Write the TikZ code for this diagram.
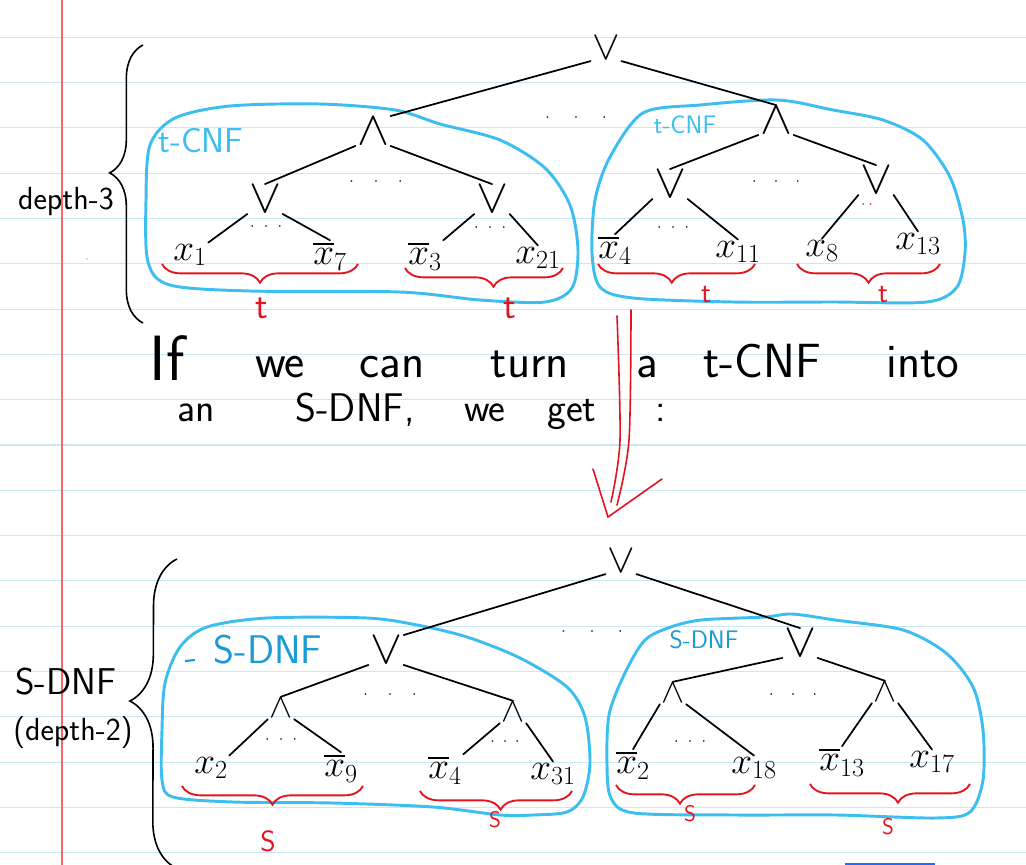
\documentclass[tikz,border=0pt]{standalone}
\usepackage{fix-cm}
\usepackage{amsmath}
\usepackage{xcolor}
\usetikzlibrary{decorations.pathreplacing,positioning}

\definecolor{ruleblue}{HTML}{C9E7F7}
\definecolor{marginred}{HTML}{F26B6B}
\definecolor{boxblue}{HTML}{3DBEF0}
\definecolor{labelblue}{HTML}{1A9AD6}
\definecolor{penred}{HTML}{E3141E}
\definecolor{brightblue}{HTML}{1F6BFF}

\newcommand{\fsz}[1]{\fontsize{#1}{#1}\selectfont}
\newcommand{\gapdots}[1]{$\cdot$\hspace{#1}$\cdot$\hspace{#1}$\cdot$}

\begin{document}
\begin{tikzpicture}[
  x=0.75pt, y=-0.75pt,
  ruleline/.style={ruleblue, line width=0.8pt},
  marginline/.style={marginred, line width=0.8pt},
  wire/.style={line width=1.3pt, line cap=round},
  gate/.style={font=\fsz{36}, inner sep=1pt},
  rootgate/.style={gate, font=\fsz{31}},
  smallgate/.style={gate, font=\fsz{26}},
  leaf/.style={font=\fsz{28}, inner sep=1pt},
  dotrow/.style={font=\fsz{12}, inner sep=0pt},
  blob/.style={boxblue, line width=2.2pt},
  bluelabel/.style={boxblue, font=\sffamily\fsz{26}, inner sep=0pt},
  dnflabel/.style={labelblue, font=\sffamily\fsz{30}, inner sep=0pt},
  hand/.style={font=\sffamily\fsz{36}, inner sep=0pt, anchor=base},
  handsmall/.style={hand, font=\sffamily\fsz{30}},
  sidetext/.style={font=\sffamily\fsz{24}, inner sep=0pt},
  tbrace/.style={penred, line width=1.4pt, decorate,
                 decoration={brace, mirror, amplitude=14pt, aspect=#1}},
  tbrace/.default=0.5,
  bigbrace/.style={line width=1.2pt, decorate,
                   decoration={brace, amplitude=#1, aspect=0.54}},
  redlabel/.style={penred, font=\sffamily\fsz{28}, inner sep=0pt},
  redpen/.style={penred, line width=1.2pt, line cap=round, line join=round}
]
\useasboundingbox (0,0) rectangle (1026,865);
\fill[white] (0,0) rectangle (1026,865);
\foreach \k in {0,...,18}
  \draw[ruleline] (0,{37.3+45.3*\k}) -- (1026,{37.3+45.3*\k});
\draw[marginline] (62,0) -- (62,865);

% depth-3 circuit
\draw[blob] plot[smooth cycle] coordinates {(146,200) (150,145) (175,118)
  (230,106) (320,104) (395,110) (440,124) (500,140) (545,168) (570,205)
  (578,250) (572,288) (545,302) (480,300) (400,292) (250,291) (170,285) (148,262)};
\draw[blob] plot[smooth cycle] coordinates {(643,113) (700,105) (777,100)
  (833,110) (883,120) (923,140) (950,177) (963,220) (965,253) (957,287)
  (927,302) (833,302) (733,302) (633,298) (600,287) (592,253) (595,200)
  (610,157)};
\node[bluelabel] (cnf1) at (201,141) {t-CNF};
\node[bluelabel, font=\sffamily\fsz{19}] (cnf2) at (685,125) {t-CNF};

\node[rootgate] (r1)  at (606,48)  {$\vee$};
\node[gate]     (a1)  at (373,131) {$\wedge$};
\node[gate]     (a2)  at (776,120) {$\wedge$};
\node[gate]     (o11) at (265,199) {$\vee$};
\node[gate]     (o12) at (492,199) {$\vee$};
\node[gate]     (o21) at (670,184) {$\vee$};
\node[gate]     (o22) at (876,180) {$\vee$};

\node[leaf] (x1)  at (190,255) {$x_{1}$};
\node[leaf] (x7b) at (330,256) {$\overline{x}_{7}$};
\node[leaf] (x3b) at (425,256) {$\overline{x}_{3}$};
\node[leaf] (x21) at (538,258) {$x_{21}$};
\node[leaf] (x4b) at (615,250) {$\overline{x}_{4}$};
\node[leaf] (x11) at (738,252) {$x_{11}$};
\node[leaf] (x8)  at (822,251) {$x_{8}$};
\node[leaf] (x13) at (918,244) {$x_{13}$};

\node[dotrow] (d0) at (576,118) {\gapdots{18pt}};
\node[dotrow] (d1) at (376,182) {\gapdots{15pt}};
\node[dotrow] (d2) at (266,227) {\gapdots{7pt}};
\node[dotrow] (d3) at (490,228) {\gapdots{7pt}};
\node[dotrow] (d4) at (776,182) {\gapdots{13pt}};
\node[dotrow] (d5) at (673,228) {\gapdots{7pt}};
\node[dotrow, penred] (d6) at (867,205) {$\cdot\,\cdot$};

\draw[wire] (r1.south west) -- (a1.north east);
\draw[wire] (r1.south east) -- (a2.north);
\draw[wire] (a1.south west) -- (o11.north);
\draw[wire] (a1.south east) -- (o12.north);
\draw[wire] (a2.south west) -- (o21.north);
\draw[wire] (a2.south east) -- (o22.north);
\draw[wire] (o11.south west) -- (x1.north east);
\draw[wire] (o11.south east) -- (x7b.north);
\draw[wire] (o12.south west) -- (x3b.north east);
\draw[wire] (o12.south east) -- (x21.north);
\draw[wire] (o21.south west) -- (x4b.north);
\draw[wire] (o21.south east) -- (x11.north);
\draw[wire] (o22.south west) -- (x8.north);
\draw[wire] (o22.south east) -- (x13.north);

\draw[tbrace] (162,264) -- (358,264);
\draw[tbrace=0.56] (405,268) -- (563,268);
\draw[tbrace=0.47] (598,264) -- (755,264);
\draw[tbrace] (797,264) -- (940,264);
\node[redlabel] (t1) at (262,308) {t};
\node[redlabel] (t2) at (510,308) {t};
\node[redlabel, font=\sffamily\fsz{22}] (t3) at (706,294) {t};
\node[redlabel, font=\sffamily\fsz{22}] (t4) at (883,294) {t};

\draw[bigbrace=25pt] (143,323) -- (143,45);
\node[sidetext] (dep3) at (66,202) {depth-3};
\fill[penred] (87,259) circle (0.6);

% the sentence
\node[hand, font=\sffamily\fsz{48}] (w1) at (167,380) {If};
\node[hand] (w2) at (280,377) {we};
\node[hand] (w3) at (392,377) {can};
\node[hand] (w4) at (530,377) {turn};
\node[hand] (w5) at (647,377) {a};
\node[hand] (w6) at (762,377) {t-CNF};
\node[hand] (w7) at (923,377) {into};
\node[handsmall] (v1) at (196,421) {an};
\node[handsmall] (v2) at (355,421) {S-DNF,};
\node[handsmall] (v3) at (485,421) {we};
\node[handsmall] (v4) at (572,421) {get};
\node[handsmall] (v5) at (661,421) {:};

\coordinate (arrtip) at (608,517);
\draw[redpen] plot[smooth] coordinates {(617,316) (620,440) (611,502)};
\draw[redpen] plot[smooth] coordinates {(631,310) (629,440) (617,505)};
\draw[redpen] (593,469) -- (arrtip) -- (662,479);

% depth-2 circuit
\draw[blob] plot[smooth cycle] coordinates {(162,730) (165,683) (180,647)
  (207,627) (267,618) (367,618) (417,625) (467,637) (520,658) (567,687)
  (585,717) (590,763) (583,797) (567,812) (533,815) (500,815) (433,807)
  (333,803) (233,802) (173,797) (162,780)};
\draw[blob] plot[smooth cycle] coordinates {(668,628) (701,620) (765,617)
  (792,614) (835,620) (903,630) (946,653) (973,687) (983,730) (983,780)
  (970,812) (936,818) (836,815) (735,815) (634,813) (611,798) (607,765)
  (609,715) (624,675) (644,641)};
\draw[labelblue, line width=1.6pt] (185,661) -- (195,660);
\node[dnflabel] (dnf1) at (268,650) {S-DNF};
\node[dnflabel, font=\sffamily\fsz{19}] (dnf2) at (704,640) {S-DNF};

\node[rootgate]  (r2)  at (621,561) {$\vee$};
\node[gate]      (o1)  at (386,650) {$\vee$};
\node[gate]      (o2)  at (800,643) {$\vee$};
\node[smallgate] (c11) at (281,708) {$\wedge$};
\node[smallgate] (c12) at (513,712) {$\wedge$};
\node[smallgate] (c21) at (673,693) {$\wedge$};
\node[smallgate] (c22) at (885,692) {$\wedge$};

\node[leaf] (y2)   at (211,768) {$x_{2}$};
\node[leaf] (y9b)  at (341,768) {$\overline{x}_{9}$};
\node[leaf] (y4b)  at (445,770) {$\overline{x}_{4}$};
\node[leaf] (y31)  at (553,774) {$x_{31}$};
\node[leaf] (y2b)  at (633,765) {$\overline{x}_{2}$};
\node[leaf] (y18)  at (754,768) {$x_{18}$};
\node[leaf] (y13b) at (842,762) {$\overline{x}_{13}$};
\node[leaf] (y17)  at (932,762) {$x_{17}$};

\node[dotrow] (e0) at (592,632) {\gapdots{18pt}};
\node[dotrow] (e1) at (390,695) {\gapdots{15pt}};
\node[dotrow] (e2) at (281,740) {\gapdots{7pt}};
\node[dotrow] (e3) at (505,742) {\gapdots{6pt}};
\node[dotrow] (e4) at (793,695) {\gapdots{13pt}};
\node[dotrow] (e5) at (690,742) {\gapdots{7pt}};

\draw[wire] (r2.south west) -- (o1.north east);
\draw[wire] (r2.south east) -- (o2.north);
\draw[wire] (o1.south west) -- (c11.north);
\draw[wire] (o1.south east) -- (c12.north);
\draw[wire] (o2.south west) -- (c21.north);
\draw[wire] (o2.south east) -- (c22.north);
\draw[wire] (c11.south west) -- (y2.north east);
\draw[wire] (c11.south east) -- (y9b.north);
\draw[wire] (c12.south west) -- (y4b.north east);
\draw[wire] (c12.south east) -- (y31.north);
\draw[wire] (c21.south west) -- (y2b.north);
\draw[wire] (c21.south east) -- (y18.north);
\draw[wire] (c22.south west) -- (y13b.north);
\draw[wire] (c22.south east) -- (y17.north);

\draw[tbrace] (182,786) -- (363,786);
\draw[tbrace=0.53] (420,791) -- (572,791);
\draw[tbrace=0.46] (616,785) -- (755,785);
\draw[tbrace=0.55] (810,784) -- (970,784);
\node[redlabel, font=\sffamily\fsz{22}] (s1) at (268,841) {S};
\node[redlabel, font=\sffamily\fsz{17}] (s2) at (495,820) {S};
\node[redlabel, font=\sffamily\fsz{17}] (s3) at (690,814) {S};
\node[redlabel, font=\sffamily\fsz{17}] (s4) at (888,827) {S};

\draw[bigbrace=35pt] (176,868) -- (177,559);
\node[sidetext, font=\sffamily\fsz{28}] (dnf0) at (66,682) {S-DNF};
\node[sidetext] (dep2) at (73,733) {(depth-2)};

\draw[brightblue, line width=2pt] (845,864.5) -- (935,864.5);
\end{tikzpicture}
\end{document}
